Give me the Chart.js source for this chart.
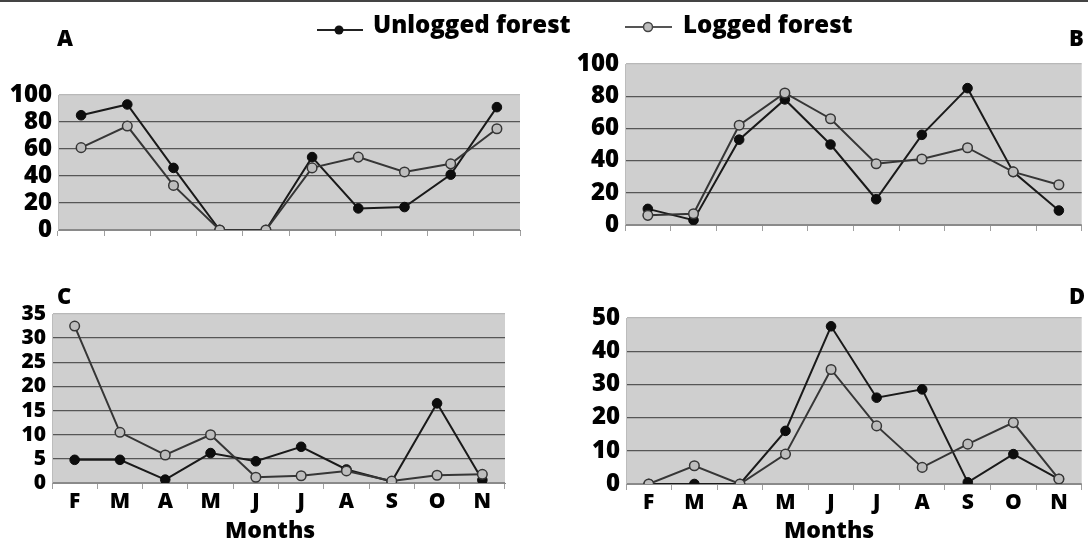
<!DOCTYPE html>
<html><head><meta charset="utf-8">
<script src="https://cdn.jsdelivr.net/npm/chart.js@4/dist/chart.umd.min.js"></script>
<style>
html,body{margin:0;padding:0;background:#fff;}
#wrap{position:relative;width:1088px;height:542px;overflow:hidden;font-family:"Open Sans",sans-serif;font-weight:800;color:#000;}
canvas{position:absolute;left:0;top:0;}
.t{position:absolute;white-space:nowrap;line-height:1;margin:0;}
#topline{position:absolute;left:0;top:0;width:1088px;height:2px;background:#444;}
svg{position:absolute;overflow:visible;}
</style></head>
<body><div id="wrap">
<div id="topline"></div>
<canvas id="cA" width="1088" height="542"></canvas>
<canvas id="cB" width="1088" height="542"></canvas>
<canvas id="cC" width="1088" height="542"></canvas>
<canvas id="cD" width="1088" height="542"></canvas>

<svg style="left:317px;top:20px" width="46" height="20"><line x1="0" y1="10" x2="46" y2="10" stroke="#222" stroke-width="2"/><circle cx="22" cy="10" r="4.5" fill="#111"/></svg>
<div class="t" style="left:373px;top:11.7px;font-size:24px">Unlogged forest</div>
<svg style="left:625px;top:17px" width="47" height="20"><line x1="0" y1="10" x2="47" y2="10" stroke="#555" stroke-width="2"/><circle cx="23" cy="10" r="4.5" fill="#bdbdbd" stroke="#444" stroke-width="1.5"/></svg>
<div class="t" style="left:683px;top:11.7px;font-size:24px">Logged forest</div>

<div class="t" style="left:57px;top:25.5px;font-size:22px">A</div>
<div class="t" style="left:1069px;top:25.5px;font-size:22px">B</div>
<div class="t" style="left:57px;top:283.5px;font-size:22px">C</div>
<div class="t" style="left:1069px;top:283.5px;font-size:22px">D</div>

<div class="t" style="left:225px;top:517.6px;font-size:23px">Months</div>
<div class="t" style="left:784px;top:517.6px;font-size:23px">Months</div>
</div>
<script>
const months = ['F','M','A','M','J','J','A','S','O','N'];

const aUnlogged = [85, 93, 46, 0, 0, 54, 16, 17, 41, 91];
const aLogged   = [61, 77, 33, 0, 0, 46, 54, 43, 49, 75];
const bUnlogged = [10, 3, 53, 78, 50, 16, 56, 85, 33, 9];
const bLogged   = [6, 7, 62, 82, 66, 38, 41, 48, 33, 25];
const cUnlogged = [4.8, 4.8, 0.7, 6.2, 4.5, 7.5, 2.8, 0.3, 16.5, 0.6];
const cLogged   = [32.5, 10.5, 5.8, 10, 1.2, 1.5, 2.5, 0.4, 1.6, 1.8];
const dUnlogged = [0, 0, 0, 16, 47.5, 26, 28.5, 0.5, 9, 1.5];
const dLogged   = [0, 5.5, 0, 9, 34.5, 17.5, 5, 12, 18.5, 1.5];

const yTicksAB = [0, 20, 40, 60, 80, 100];
const yTicksC  = [0, 5, 10, 15, 20, 25, 30, 35];
const yTicksD  = [0, 10, 20, 30, 40, 50];

const bgPlugin = {
  id: 'plotBg',
  beforeDraw(chart) {
    const {ctx, chartArea: a} = chart;
    ctx.save();
    ctx.fillStyle = '#cfcfcf';
    ctx.fillRect(a.left, a.top, a.right - a.left, a.bottom - a.top);
    ctx.restore();
  }
};

function makeChart(id, area, yTicks, unl, log, showX, yFontSize) {
  const Y_W = 60, X_H = showX ? 30 : 8;
  const yMin = yTicks[0], yMax = yTicks[yTicks.length - 1];
  return new Chart(document.getElementById(id), {
    type: 'line',
    data: {
      labels: months,
      datasets: [
        {label: 'Logged forest', data: log, borderColor: '#363636', borderWidth: 2,
         pointRadius: 4.8, pointBackgroundColor: '#bdbdbd', pointBorderColor: '#363636',
         pointBorderWidth: 1.5, tension: 0},
        {label: 'Unlogged forest', data: unl, borderColor: '#1a1a1a', borderWidth: 2,
         pointRadius: 4.8, pointBackgroundColor: '#0d0d0d', pointBorderColor: '#0d0d0d',
         pointBorderWidth: 1, tension: 0}
      ]
    },
    plugins: [bgPlugin],
    options: {
      responsive: false, animation: false, events: [],
      layout: {padding: {left: area.left - Y_W, right: 1088 - area.right, top: area.top, bottom: 542 - area.bottom - X_H}},
      plugins: {legend: {display: false}, tooltip: {enabled: false}},
      scales: {
        x: {
          type: 'category', offset: true,
          grid: {offset: true, drawOnChartArea: false, drawTicks: true, tickLength: 6, color: '#a0a0a0', lineWidth: 1},
          border: {display: true, color: '#8a8a8a', width: 1},
          ticks: {display: showX, font: {family: 'Open Sans', weight: 800, size: 21}, color: '#000',
                  padding: 0, maxRotation: 0, autoSkip: false},
          afterFit(s) { s.height = X_H; }
        },
        y: {
          min: yMin, max: yMax,
          afterBuildTicks(s) { s.ticks = yTicks.map(v => ({value: v})); },
          grid: {drawTicks: false, lineWidth: 1.3,
                 color: c => c.tick.value === yMax ? '#b8b8b8' : (c.tick.value === yMin ? '#8a8a8a' : '#565656')},
          border: {display: true, color: '#bcbcbc', width: 1},
          ticks: {font: {family: 'Open Sans', weight: 800, size: yFontSize}, color: '#000', padding: 6, autoSkip: false},
          afterFit(s) { s.width = Y_W; }
        }
      }
    }
  });
}

makeChart('cA', {left: 58, right: 520, top: 95, bottom: 230}, yTicksAB, aUnlogged, aLogged, false, 24);
makeChart('cB', {left: 625, right: 1087, top: 64, bottom: 225}, yTicksAB, bUnlogged, bLogged, false, 24);
makeChart('cC', {left: 52, right: 505, top: 314, bottom: 483}, yTicksC, cUnlogged, cLogged, true, 21);
makeChart('cD', {left: 626, right: 1086, top: 318, bottom: 484}, yTicksD, dUnlogged, dLogged, true, 24);
</script>
</body></html>
